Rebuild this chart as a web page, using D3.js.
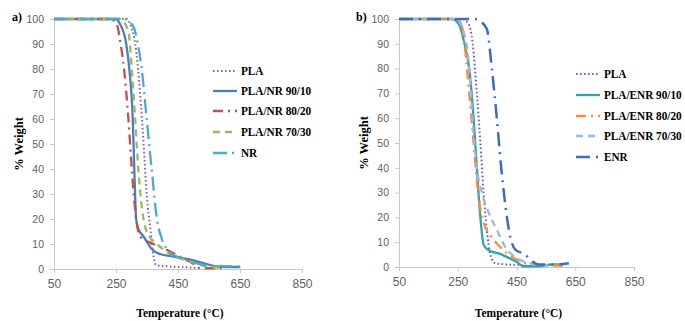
<!DOCTYPE html>
<meta charset="utf-8">
<head>
<script src="https://d3js.org/d3.v7.min.js"></script>
<style>
  body { margin: 0; background: #fff; }
  .tick text { font-family: "Liberation Sans", Arial, sans-serif; fill: #626262; }
  .xax .tick text { font-size: 12px; }
  .yax .tick text { font-size: 10.5px; }
</style>
</head>
<body>
<svg id="chart" width="685" height="321"></svg>
<script>
// x ticks / y ticks shared by both panels
var xTicks = [50, 250, 450, 650, 850];
var yTicks = [0, 10, 20, 30, 40, 50, 60, 70, 80, 90, 100];

// ---- panel a: PLA / NR blends (temperature, % weight) ----
var aPLA_T  = [50, 285, 301, 312, 328, 339, 349, 362, 371, 380, 420, 460, 510];
var aPLA_W  = [100, 100, 96, 90, 70, 50, 30, 15, 5, 1.5, 1, 0.8, 0.4];
var aNR90_T = [50, 247, 263, 283, 293, 304, 309, 315, 322, 339, 365, 392, 435, 478, 543, 575, 651];
var aNR90_W = [100, 100, 98, 90, 80, 60, 40, 20, 16, 13, 8, 6, 5, 4, 2, 1, 0.8];
var aNR80_T = [50, 231, 252, 265, 276, 290, 301, 315, 328, 371, 425, 470, 500, 511, 560, 608];
var aNR80_W = [100, 100, 98, 90, 80, 60, 40, 20, 13, 10, 7, 4, 2, 0.5, 0.3, 0.5];
var aNR70_T = [50, 263, 290, 301, 312, 322, 333, 349, 382, 425, 489, 543, 586];
var aNR70_W = [100, 100, 95, 80, 60, 40, 25, 15, 10, 6, 3, 1, 0.5];
var aNR_T   = [50, 274, 306, 317, 333, 349, 365, 382, 398, 414, 446, 489, 543, 651];
var aNR_W   = [100, 100, 97, 92, 80, 60, 40, 20, 12, 8, 5, 3, 1.5, 1];

// ---- panel b: PLA / ENR blends ----
var bPLA_T   = [50, 264, 287, 301, 315, 327, 338, 349, 361, 378, 420, 457, 500];
var bPLA_W   = [100, 100, 98, 90, 70, 50, 30, 15, 5, 1.5, 1, 0.8, 0.3];
var bENR90_T = [50, 230, 253, 273, 289, 304, 315, 327, 338, 352, 400, 451, 475, 526, 571, 594];
var bENR90_W = [100, 100, 98, 90, 80, 60, 40, 20, 9, 7, 5, 2, 0.3, 0.3, 1, 1];
var bENR80_T = [50, 241, 264, 273, 289, 304, 319, 338, 366, 395, 435, 469, 503, 617];
var bENR80_W = [100, 100, 97, 90, 70, 50, 30, 18, 12, 8, 4, 2, 1, 0.5];
var bENR70_T = [50, 247, 270, 289, 300, 315, 332, 355, 383, 412, 446, 480, 526, 575];
var bENR70_W = [100, 100, 95, 80, 60, 40, 30, 22, 15, 8, 4, 2, 1, 0.5];
var bENR_T   = [50, 309, 327, 349, 366, 383, 398, 412, 429, 446, 480, 497, 526, 580, 628];
var bENR_W   = [100, 100, 99, 96, 80, 60, 40, 25, 12, 7, 5, 3, 1, 1, 1.5];

function zip(t, w) { return t.map(function(d, i){ return [d, w[i]]; }); }

var serif = "'Liberation Serif', 'Times New Roman', Times, serif";

var panels = [
  { tag: "a)", x0: 54, x1: 302, y0: 269, y1: 19, tagX: 12,
    legX: 213, legY: [71, 91, 111, 132, 153],
    series: [
      { name: "PLA",          pts: zip(aPLA_T, aPLA_W),   color: "#8466b0", dash: "1.6,2.4", w: 2 },
      { name: "PLA/NR 90/10", pts: zip(aNR90_T, aNR90_W), color: "#4a7ebf", dash: null,      w: 2.3 },
      { name: "PLA/NR 80/20", pts: zip(aNR80_T, aNR80_W), color: "#c0504d", dash: "10,5,2,5", w: 2.3 },
      { name: "PLA/NR 70/30", pts: zip(aNR70_T, aNR70_W), color: "#9bbb59", dash: "7,5",     w: 2.3 },
      { name: "NR",           pts: zip(aNR_T, aNR_W),     color: "#4bacc6", dash: "14,5,2,5", w: 2.3 }
    ]},
  { tag: "b)", x0: 399, x1: 634, y0: 267, y1: 19, tagX: 356,
    legX: 576, legY: [74, 95, 116, 136, 157],
    series: [
      { name: "PLA",           pts: zip(bPLA_T, bPLA_W),     color: "#7a5aa8", dash: "1.6,2.4", w: 2 },
      { name: "PLA/ENR 90/10", pts: zip(bENR90_T, bENR90_W), color: "#2fa2b3", dash: null,      w: 2.3 },
      { name: "PLA/ENR 80/20", pts: zip(bENR80_T, bENR80_W), color: "#f0913c", dash: "10,5,2,5", w: 2.3 },
      { name: "PLA/ENR 70/30", pts: zip(bENR70_T, bENR70_W), color: "#9cb6dc", dash: "7,5",     w: 2.3 },
      { name: "ENR",           pts: zip(bENR_T, bENR_W),     color: "#3d6db3", dash: "14,6,2,6", w: 2.5 }
    ]}
];

var svg = d3.select("#chart");

panels.forEach(function(p){
  var x = d3.scaleLinear().domain([50, 850]).range([p.x0, p.x1]);
  var y = d3.scaleLinear().domain([0, 100]).range([p.y0, p.y1]);
  var g = svg.append("g");

  var xa = g.append("g").attr("class", "xax").attr("transform", "translate(0," + p.y0 + ")")
    .call(d3.axisBottom(x).tickValues(xTicks).tickSize(4).tickPadding(6).tickFormat(d3.format("d")));
  var ya = g.append("g").attr("class", "yax").attr("transform", "translate(" + p.x0 + ",0)")
    .call(d3.axisLeft(y).tickValues(yTicks).tickSize(4).tickPadding(6));
  [xa, ya].forEach(function(a){
    a.select(".domain").attr("stroke", "#c8c8c8");
    a.selectAll(".tick line").attr("stroke", "#c8c8c8");
  });

  var line = d3.line().x(function(d){ return x(d[0]); }).y(function(d){ return y(d[1]); })
    .curve(d3.curveMonotoneX);

  p.series.forEach(function(s){
    g.append("path").datum(s.pts)
      .attr("d", line)
      .attr("fill", "none")
      .attr("stroke", s.color)
      .attr("stroke-width", s.w)
      .attr("stroke-dasharray", s.dash)
      .attr("stroke-linejoin", "round");
  });

  // legend (text is slightly condensed like the original)
  p.series.forEach(function(s, i){
    var ly = p.legY[i];
    g.append("line").attr("x1", p.legX).attr("x2", p.legX + 24).attr("y1", ly).attr("y2", ly)
      .attr("stroke", s.color).attr("stroke-width", s.w).attr("stroke-dasharray", s.dash);
    g.append("text")
      .attr("transform", "translate(" + (p.legX + 28) + "," + (ly + 4) + ") scale(0.9,1)")
      .style("font-family", serif).style("font-weight", "bold").style("font-size", "12.5px")
      .text(s.name);
  });

  g.append("text").attr("x", p.tagX).attr("y", 21)
    .style("font-family", serif).style("font-weight", "bold").style("font-size", "12px")
    .text(p.tag);

  g.append("text")
    .attr("transform", "translate(" + (p.x0 - 31) + "," + ((p.y0 + p.y1) / 2) + ") rotate(-90)")
    .attr("text-anchor", "middle")
    .style("font-family", serif).style("font-weight", "bold").style("font-size", "12.5px")
    .text("% Weight");

  g.append("text")
    .attr("transform", "translate(" + ((p.x0 + p.x1) / 2 + 2) + ",317) scale(0.92,1)")
    .attr("text-anchor", "middle")
    .style("font-family", serif).style("font-weight", "bold").style("font-size", "12.5px")
    .text("Temperature (°C)");
});
</script>
</body>
